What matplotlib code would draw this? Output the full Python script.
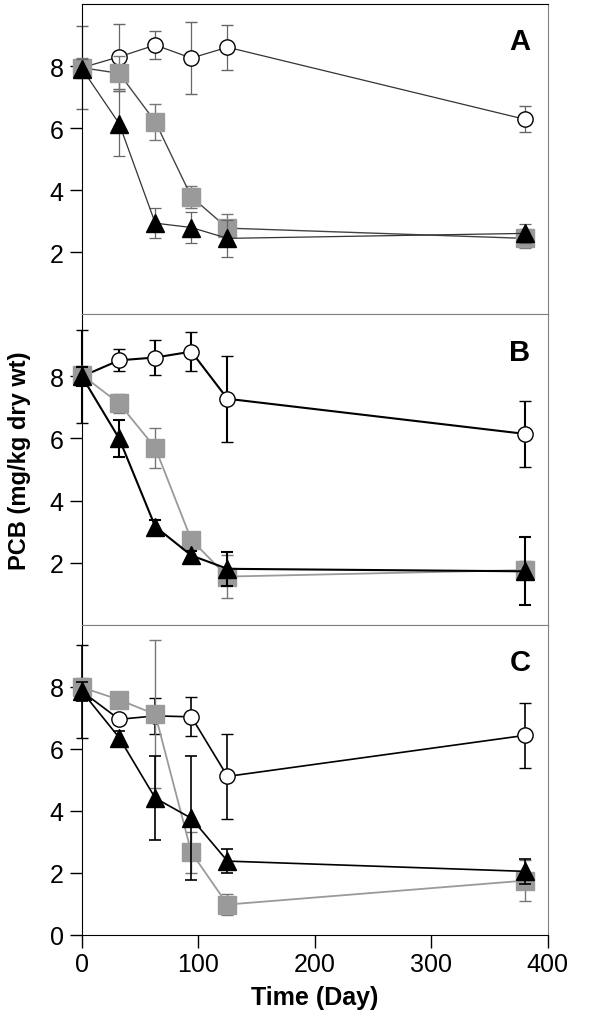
import matplotlib
matplotlib.use('Agg')
import matplotlib.pyplot as plt

plt.rcParams['font.family'] = ['Liberation Sans', 'DejaVu Sans']

# Dias de muestreo
dias = [0, 32, 63, 94, 125, 380]

# Panel A
control_a = [7.95, 8.30, 8.68, 8.26, 8.61, 6.29]
control_a_err = [1.33, 1.05, 0.45, 1.15, 0.72, 0.42]
cuadro_a = [7.95, 7.77, 6.21, 3.79, 2.78, 2.45]
cuadro_a_err = [0.3, 0.56, 0.58, 0.36, 0.45, 0.3]
triang_a = [7.92, 6.15, 2.94, 2.80, 2.45, 2.61]
triang_a_err = [0.3, 1.06, 0.48, 0.5, 0.6, 0.3]

# Panel B
control_b = [8.0, 8.52, 8.61, 8.80, 7.28, 6.15]
control_b_err = [1.5, 0.35, 0.55, 0.63, 1.38, 1.06]
cuadro_b = [8.05, 7.13, 5.70, 2.73, 1.55, 1.76]
cuadro_b_err = [0.3, 0.3, 0.65, 0.2, 0.7, 0.3]
triang_b = [8.0, 6.0, 3.16, 2.23, 1.80, 1.72]
triang_b_err = [0.3, 0.6, 0.2, 0.15, 0.55, 1.1]

# Panel C
control_c = [7.85, 6.95, 7.06, 7.03, 5.11, 6.43]
control_c_err = [1.5, 0.15, 0.57, 0.63, 1.37, 1.05]
cuadro_c = [7.98, 7.58, 7.11, 2.66, 0.98, 1.75]
cuadro_c_err = [0.3, 0.2, 2.38, 0.65, 0.33, 0.65]
triang_c = [7.85, 6.36, 4.41, 3.76, 2.38, 2.05]
triang_c_err = [0.3, 0.2, 1.36, 2.0, 0.39, 0.4]

paneles = [
    ('A', control_a, control_a_err, cuadro_a, cuadro_a_err, triang_a, triang_a_err, 0.9, '#666666', '#333333'),
    ('B', control_b, control_b_err, cuadro_b, cuadro_b_err, triang_b, triang_b_err, 1.5, 'black', 'black'),
    ('C', control_c, control_c_err, cuadro_c, cuadro_c_err, triang_c, triang_c_err, 1.2, 'black', 'black'),
]

fig, ejes = plt.subplots(3, 1, figsize=(6.02, 10.2), dpi=100, sharex=True)
fig.subplots_adjust(left=0.136, right=0.910, top=0.995, bottom=0.0824, hspace=0)

gris = '#9a9a9a'


def sin_recorte(contenedor):
    # Que los marcadores en x=0 no queden cortados por el eje
    for hijo in contenedor.get_children():
        hijo.set_clip_on(False)


for i, (letra, ctl, ctl_e, cua, cua_e, tri, tri_e, lw, col_err, col_lin) in enumerate(paneles):
    ax = ejes[i]

    # Control: circulos abiertos
    eb = ax.errorbar(dias, ctl, yerr=ctl_e, color=col_lin, ecolor=col_err, elinewidth=lw,
                     capsize=4, capthick=lw, lw=lw, marker='o', ms=11, mfc='white',
                     mec='black', mew=1.0, zorder=2)
    sin_recorte(eb)
    # Cuadrados grises
    eb = ax.errorbar(dias, cua, yerr=cua_e, color=gris if i > 0 else '#444444', ecolor='#777777',
                     elinewidth=1.0, capsize=4, capthick=1.0, lw=1.0 if i == 0 else 1.3,
                     marker='s', ms=13, mfc=gris, mec=gris, zorder=3)
    sin_recorte(eb)
    # Triangulos negros
    eb = ax.errorbar(dias, tri, yerr=tri_e, color=col_lin, ecolor=col_err, elinewidth=lw,
                     capsize=4, capthick=lw, lw=lw, marker='^', ms=13, mfc='black',
                     mec='black', zorder=4)
    sin_recorte(eb)

    ax.set_xlim(0, 400)
    ax.set_ylim(0, 10)
    if i < 2:
        ax.set_yticks([2, 4, 6, 8])
    else:
        ax.set_yticks([0, 2, 4, 6, 8])
    ax.tick_params(axis='y', direction='out', length=9, width=1, labelsize=18, pad=4)
    ax.tick_params(axis='x', direction='out', length=9, width=1, labelsize=18,
                   bottom=(i == 2), labelbottom=(i == 2))

    # Marcos
    ax.spines['left'].set_color('black')
    ax.spines['right'].set_color('#808080')
    ax.spines['bottom'].set_color('#808080' if i < 2 else 'black')
    ax.spines['top'].set_color('black' if i == 0 else '#808080')

    ax.text(0.94, 0.88, letra, transform=ax.transAxes, fontsize=21,
            fontweight='bold', ha='center', va='center')

ejes[2].set_xticks([0, 100, 200, 300, 400])
ejes[2].set_xlabel('Time (Day)', fontsize=18, fontweight='bold', labelpad=6)
ejes[1].set_ylabel('PCB (mg/kg dry wt)', fontsize=17, fontweight='bold')
ejes[1].yaxis.set_label_coords(-0.11, 0.53)

plt.savefig('out.png', dpi=100)
